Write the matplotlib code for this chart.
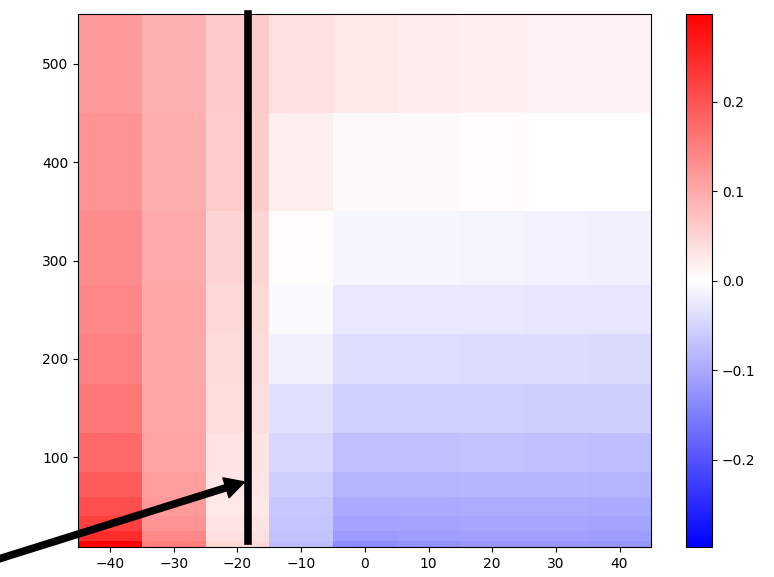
import numpy as np
import matplotlib
matplotlib.use("Agg")
import matplotlib.pyplot as plt

# Data
x_centers = [-40, -30, -20, -10, 0, 10, 20, 30, 40]
levels = [10, 20, 30, 50, 70, 100, 150, 200, 250, 300, 400, 500]

row_10  = [0.298, 0.150, 0.046, -0.075, -0.133, -0.126, -0.121, -0.120, -0.123]
row_20  = [0.245, 0.138, 0.036, -0.072, -0.117, -0.113, -0.111, -0.110, -0.112]
row_30  = [0.222, 0.125, 0.031, -0.068, -0.108, -0.106, -0.104, -0.104, -0.106]
row_50  = [0.205, 0.118, 0.027, -0.063, -0.100, -0.099, -0.097, -0.097, -0.099]
row_70  = [0.190, 0.112, 0.029, -0.057, -0.088, -0.087, -0.086, -0.086, -0.088]
row_100 = [0.175, 0.107, 0.032, -0.047, -0.074, -0.073, -0.072, -0.073, -0.075]
row_150 = [0.158, 0.103, 0.038, -0.036, -0.054, -0.054, -0.055, -0.056, -0.057]
row_200 = [0.147, 0.102, 0.041, -0.018, -0.039, -0.039, -0.040, -0.041, -0.042]
row_250 = [0.141, 0.101, 0.045, -0.006, -0.026, -0.026, -0.027, -0.028, -0.029]
row_300 = [0.135, 0.100, 0.049, 0.003, -0.010, -0.011, -0.013, -0.015, -0.017]
row_400 = [0.128, 0.095, 0.059, 0.019, 0.006, 0.005, 0.004, 0.002, 0.002]
row_500 = [0.118, 0.092, 0.061, 0.035, 0.026, 0.021, 0.018, 0.015, 0.015]

line_x = -18.4
line_y = [15, 550]
arrow_tip = (-18.9, 75)
arrow_tail = (-62, -12.4)

values = np.array([row_10, row_20, row_30, row_50, row_70, row_100, row_150,
                   row_200, row_250, row_300, row_400, row_500])
vlim = np.abs(values).max()

fig = plt.figure(figsize=(7.74, 5.77), dpi=100)
ax = fig.add_axes([78.3 / 774, 29.7 / 577, 573.1 / 774, 533.3 / 577])
cax = fig.add_axes([686 / 774, 29.7 / 577, 26 / 774, 533.3 / 577])

mesh = ax.pcolormesh(x_centers, levels, values, cmap="bwr",
                     vmin=-vlim, vmax=vlim, shading="nearest")
ax.plot([line_x, line_x], line_y, color="black", lw=5.5, clip_on=False)
ax.annotate("", xy=arrow_tip, xytext=arrow_tail,
            arrowprops=dict(facecolor="black", width=4.5, headwidth=15,
                            headlength=14, shrink=0),
            annotation_clip=False)
ax.set_xlim(-45, 45)
ax.set_ylim(8.6, 550.5)

fig.colorbar(mesh, cax=cax)

fig.savefig("out.png", dpi=100)
